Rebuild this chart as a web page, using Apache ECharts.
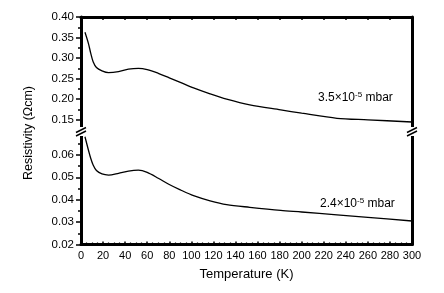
<!DOCTYPE html>
<html>
<head>
<meta charset="utf-8">
<script src="https://cdn.jsdelivr.net/npm/echarts@6/dist/echarts.min.js"></script>
<style>html,body{margin:0;padding:0;background:#fff;}#c{width:444px;height:293px;}</style>
</head>
<body>
<div id="c"></div>
<script>
// Temperature (K)
var temps = [3.6, 6.7, 8.8, 11, 14, 19, 25, 34, 43, 52, 60, 70, 80, 90, 102, 117, 132, 153, 181, 200, 232, 260, 300];
// Resistivity (Ohm cm) at 3.5e-5 mbar
var rhoHigh = [0.363, 0.336, 0.312, 0.291, 0.277, 0.269, 0.2645, 0.267, 0.273, 0.275, 0.272, 0.263, 0.252, 0.241, 0.2275, 0.213, 0.200, 0.186, 0.174, 0.166, 0.1535, 0.1498, 0.1445];
// Resistivity (Ohm cm) at 2.4e-5 mbar
var rhoLow = [0.0681, 0.0622, 0.0585, 0.0555, 0.0530, 0.0515, 0.0510, 0.0518, 0.0528, 0.0532, 0.0522, 0.0496, 0.0468, 0.0444, 0.0418, 0.0395, 0.0378, 0.0366, 0.0352, 0.0345, 0.0332, 0.0321, 0.0305];
var topMajor = [0.15, 0.20, 0.25, 0.30, 0.35, 0.40];
var topMinor = [0.175, 0.225, 0.275, 0.325, 0.375];
var botMajor = [0.02, 0.03, 0.04, 0.05, 0.06];
var botMinor = [0.025, 0.035, 0.045, 0.055, 0.065];
var labelHigh = ['3.5×10', '-5', ' mbar'];
var labelLow = ['2.4×10', '-5', ' mbar'];

var FONT = "'Liberation Sans', Arial, sans-serif";
function pairs(xs, ys){ return xs.map(function(x,i){ return [x, ys[i]]; }); }
var chart = echarts.init(document.getElementById('c'), null, {renderer:'canvas'});
var lineStyleAxis = {color:'#000', width:3};
function richLabel(parts){
  return '{a|' + parts[0] + '}{s|' + parts[1] + '}{a|' + parts[2] + '}';
}
var richDef = {
  a:{fontSize:12, fontFamily:FONT, color:'#000', lineHeight:14},
  s:{fontSize:8, fontFamily:FONT, color:'#000', verticalAlign:'top', lineHeight:14}
};
chart.setOption({
  animation:false,
  backgroundColor:'#fff',
  grid:[
    {left:81, right:32, top:17, height:113},
    {left:81, right:32, top:132.5, height:112}
  ],
  xAxis:[
    {gridIndex:0, type:'value', position:'top', min:0, max:300, interval:20,
     axisLine:{show:true, lineStyle:lineStyleAxis},
     axisTick:{show:true, inside:true, length:3, lineStyle:{width:1.5, color:'#000'}},
     minorTick:{show:true, splitNumber:4, length:2, lineStyle:{width:1.2, color:'#000'}},
     axisLabel:{show:false}, splitLine:{show:false}},
    {gridIndex:1, type:'value', position:'bottom', min:0, max:300, interval:20,
     axisLine:{show:true, lineStyle:lineStyleAxis},
     axisTick:{show:true, inside:true, length:3, lineStyle:{width:1.5, color:'#000'}},
     minorTick:{show:true, splitNumber:4, length:2, lineStyle:{width:1.2, color:'#000'}},
     axisLabel:{show:true, fontSize:11, fontFamily:FONT, color:'#000', margin:6},
     splitLine:{show:false},
     name:'Temperature (K)', nameLocation:'middle', nameGap:23,
     nameTextStyle:{fontSize:13, fontFamily:FONT, color:'#000'}}
  ],
  yAxis:[
    {gridIndex:0, type:'value', position:'left', min:0.125, max:0.40,
     axisLine:{show:true, onZero:false, lineStyle:lineStyleAxis},
     axisTick:{show:true, length:5, customValues:topMajor, lineStyle:{width:1.5, color:'#000'}},
     axisLabel:{show:true, customValues:topMajor, formatter:function(v){return v.toFixed(2);}, fontSize:11.5, fontFamily:FONT, color:'#000', margin:7},
     splitLine:{show:false}},
    {gridIndex:0, type:'value', position:'left', min:0.125, max:0.40,
     axisLine:{show:false},
     axisTick:{show:true, length:3, customValues:topMinor, lineStyle:{width:1.5, color:'#000'}},
     axisLabel:{show:false}, splitLine:{show:false}},
    {gridIndex:0, type:'value', position:'right', min:0.125, max:0.40,
     axisLine:{show:true, onZero:false, lineStyle:lineStyleAxis},
     axisTick:{show:false}, axisLabel:{show:false}, splitLine:{show:false}},
    {gridIndex:1, type:'value', position:'left', min:0.02, max:0.07,
     axisLine:{show:true, onZero:false, lineStyle:lineStyleAxis},
     axisTick:{show:true, length:5, customValues:botMajor, lineStyle:{width:1.5, color:'#000'}},
     axisLabel:{show:true, customValues:botMajor, formatter:function(v){return v.toFixed(2);}, fontSize:11.5, fontFamily:FONT, color:'#000', margin:7},
     splitLine:{show:false}},
    {gridIndex:1, type:'value', position:'left', min:0.02, max:0.07,
     axisLine:{show:false},
     axisTick:{show:true, length:3, customValues:botMinor, lineStyle:{width:1.5, color:'#000'}},
     axisLabel:{show:false}, splitLine:{show:false}},
    {gridIndex:1, type:'value', position:'right', min:0.02, max:0.07,
     axisLine:{show:true, onZero:false, lineStyle:lineStyleAxis},
     axisTick:{show:false}, axisLabel:{show:false}, splitLine:{show:false}}
  ],
  series:[
    {type:'line', xAxisIndex:0, yAxisIndex:0, data:pairs(temps, rhoHigh), smooth:0.3, showSymbol:false, symbol:'none',
     lineStyle:{color:'#000', width:1.3}},
    {type:'line', xAxisIndex:1, yAxisIndex:3, data:pairs(temps, rhoLow), smooth:0.3, showSymbol:false, symbol:'none',
     lineStyle:{color:'#000', width:1.3}}
  ],
  graphic:[
    {type:'text', x:29, y:133, rotation:Math.PI/2,
     style:{text:'Resistivity (Ωcm)', fontSize:12.5, fontFamily:FONT, fill:'#000', align:'center', verticalAlign:'middle'}, z:100},
    {type:'rect', shape:{x:75, y:127, width:12, height:9}, style:{fill:'#fff'}, z:100},
    {type:'line', shape:{x1:76, y1:132.5, x2:86, y2:127.5}, style:{stroke:'#000', lineWidth:1.5}, z:101},
    {type:'line', shape:{x1:76, y1:136, x2:86, y2:131}, style:{stroke:'#000', lineWidth:1.5}, z:101},
    {type:'rect', shape:{x:406, y:127, width:12, height:9}, style:{fill:'#fff'}, z:100},
    {type:'line', shape:{x1:407, y1:132.5, x2:417, y2:127.5}, style:{stroke:'#000', lineWidth:1.5}, z:101},
    {type:'line', shape:{x1:407, y1:136, x2:417, y2:131}, style:{stroke:'#000', lineWidth:1.5}, z:101},
    {type:'text', x:318, y:97.5, style:{text:richLabel(labelHigh), rich:richDef, verticalAlign:'middle'}, z:100},
    {type:'text', x:320, y:204, style:{text:richLabel(labelLow), rich:richDef, verticalAlign:'middle'}, z:100}
  ]
});
</script>
</body>
</html>
